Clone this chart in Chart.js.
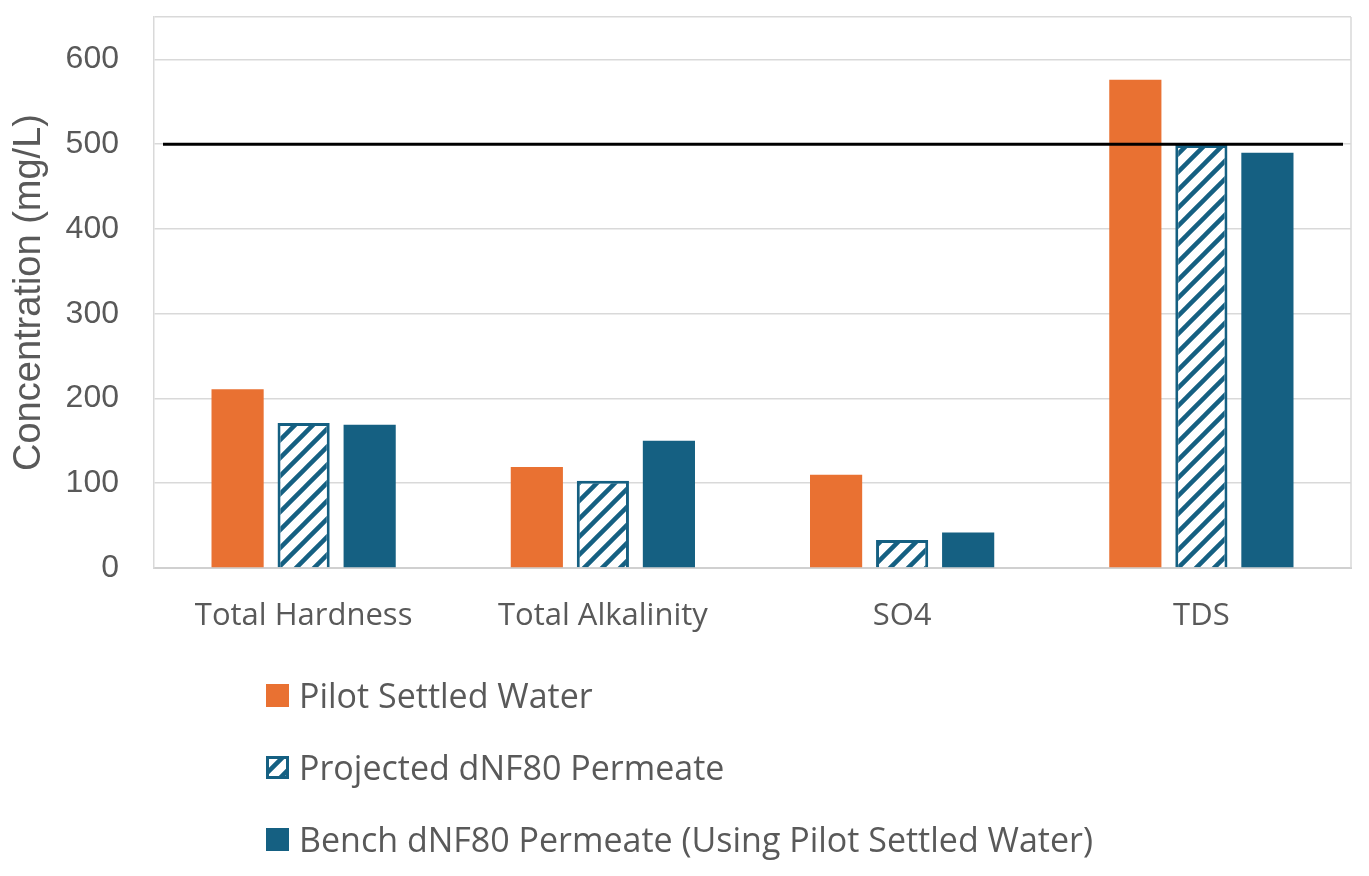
<!DOCTYPE html>
<html>
<head>
<meta charset="utf-8">
<script src="https://cdn.jsdelivr.net/npm/chart.js@4.4.1/dist/chart.umd.min.js"></script>
<style>
  body { margin: 0; background: #fff; }
  #wrap { position: relative; width: 1369px; height: 876px; }
  #legend { position: absolute; left: 266px; top: 672px; font-family: 'Open Sans', sans-serif; font-size: 34px; color: #595959; }
  .item { display: flex; align-items: center; height: 46px; margin-bottom: 26px; }
  .item canvas { width: 23px; height: 23px; margin-right: 10px; }
</style>
</head>
<body>
<div id="wrap">
  <canvas id="waterChart"></canvas>
  <div id="legend"></div>
</div>
<script>
// categories and series
var categories = ['Total Hardness', 'Total Alkalinity', 'SO4', 'TDS'];
var pilotSettled = [211, 119, 110, 576];
var projectedPermeate = [171, 103, 33, 499];
var benchPermeate = [169, 150, 42, 490];
var seriesNames = ['Pilot Settled Water', 'Projected dNF80 Permeate', 'Bench dNF80 Permeate (Using Pilot Settled Water)'];
var yTicks = [0, 100, 200, 300, 400, 500, 600];
var limitValue = 500; // the black reference line

var orange = '#E97132';
var blue = '#156082';

// diagonal hatch pattern for the projected series
function makeHatch() {
    var s = 18;
    var c = document.createElement('canvas');
    c.width = s; c.height = s;
    var g = c.getContext('2d');
    g.fillStyle = '#ffffff';
    g.fillRect(0, 0, s, s);
    g.strokeStyle = blue;
    g.lineWidth = 4.5;
    g.beginPath();
    g.moveTo(-2, s + 2); g.lineTo(s + 2, -2);
    g.moveTo(-2, 2); g.lineTo(2, -2);
    g.moveTo(s - 2, s + 2); g.lineTo(s + 2, s - 2);
    g.stroke();
    return g.createPattern(c, 'repeat');
}
var hatch = makeHatch();

// grey right edge of the plot area and the black 500 line
var plotExtras = {
    id: 'plotExtras',
    beforeDatasetsDraw: function(chart) {
        var a = chart.chartArea, ctx = chart.ctx;
        ctx.save();
        ctx.strokeStyle = '#d9d9d9';
        ctx.lineWidth = 1.5;
        ctx.beginPath();
        ctx.moveTo(a.right, a.top);
        ctx.lineTo(a.right, a.bottom);
        ctx.stroke();
        ctx.restore();
    },
    afterDatasetsDraw: function(chart) {
        var a = chart.chartArea, ctx = chart.ctx;
        var y = chart.scales.y.getPixelForValue(limitValue);
        ctx.save();
        ctx.strokeStyle = '#000000';
        ctx.lineWidth = 3;
        ctx.beginPath();
        ctx.moveTo(a.left + 9, y);
        ctx.lineTo(a.right - 8, y);
        ctx.stroke();
        ctx.restore();
    }
};

var ctx = document.getElementById('waterChart').getContext('2d');
var chart = new Chart(ctx, {
    type: 'bar',
    data: {
        labels: categories,
        datasets: [{
            label: seriesNames[0],
            data: pilotSettled,
            backgroundColor: orange,
            borderWidth: 0
        }, {
            label: seriesNames[1],
            data: projectedPermeate,
            backgroundColor: hatch,
            borderColor: blue,
            borderWidth: 3
        }, {
            label: seriesNames[2],
            data: benchPermeate,
            backgroundColor: blue,
            borderWidth: 0
        }]
    },
    options: {
        responsive: true,
        maintainAspectRatio: false,
        animation: false,
        devicePixelRatio: 1,
        layout: { padding: { left: 0, right: 18, top: 17, bottom: 0 } },
        categoryPercentage: 0.662,
        barPercentage: 0.79,
        plugins: {
            legend: { display: false },
            tooltip: { enabled: false }
        },
        scales: {
            x: {
                grid: { display: false },
                border: { color: '#d0d0d0', width: 2 },
                ticks: {
                    padding: 22,
                    color: '#595959',
                    font: { family: 'Open Sans', size: 31 }
                },
                afterFit: function(scale) { scale.height = 876 - 568; }
            },
            y: {
                min: 0,
                max: 650,
                grid: { color: '#d9d9d9', lineWidth: 1.5, drawTicks: false },
                border: { color: '#d9d9d9', width: 1.5 },
                afterBuildTicks: function(scale) {
                    scale.ticks = yTicks.concat([650]).map(function(v) { return { value: v }; });
                },
                ticks: {
                    padding: 35,
                    color: '#595959',
                    font: { family: 'Liberation Sans', size: 32 },
                    callback: function(v) { return yTicks.indexOf(v) >= 0 ? v : ''; }
                },
                title: {
                    display: true,
                    text: 'Concentration (mg/L)',
                    color: '#595959',
                    font: { family: 'Liberation Sans', size: 38 },
                    padding: { top: 7, bottom: 0 }
                },
                afterFit: function(scale) {
                    scale.width = 154;
                    scale.paddingTop = 0;
                }
            }
        }
    },
    plugins: [plotExtras]
});

// vertical legend built from the datasets
var legend = document.getElementById('legend');
chart.data.datasets.forEach(function(ds) {
    var row = document.createElement('div');
    row.className = 'item';
    var sw = document.createElement('canvas');
    sw.width = 23; sw.height = 23;
    var g = sw.getContext('2d');
    g.fillStyle = ds.backgroundColor;
    g.fillRect(0, 0, 23, 23);
    if (ds.borderWidth) {
        g.strokeStyle = ds.borderColor;
        g.lineWidth = 3;
        g.strokeRect(1.5, 1.5, 20, 20);
    }
    var txt = document.createElement('span');
    txt.textContent = ds.label;
    row.appendChild(sw);
    row.appendChild(txt);
    legend.appendChild(row);
});
</script>
</body>
</html>
